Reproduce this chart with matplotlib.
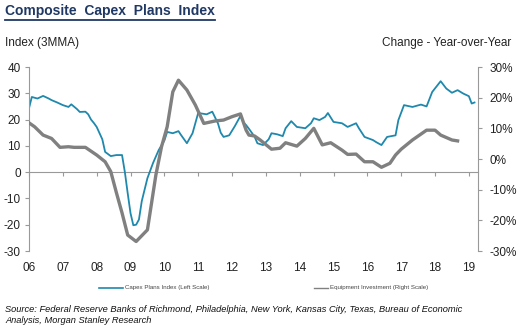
import matplotlib
matplotlib.use('Agg')
import matplotlib.pyplot as plt
from matplotlib.lines import Line2D

plt.rcParams['font.family'] = ['Liberation Sans', 'DejaVu Sans']

# ---------------- data ----------------
capex_dates = [
    '2006-01', '2006-02', '2006-04', '2006-06', '2006-07', '2006-08', '2006-09', '2006-11', '2006-12',
    '2007-01', '2007-03', '2007-04', '2007-06', '2007-07', '2007-09', '2007-10', '2007-11', '2007-12',
    '2008-01', '2008-03', '2008-04', '2008-06', '2008-08', '2008-10', '2008-11', '2008-12',
    '2009-01', '2009-02', '2009-03', '2009-04', '2009-05', '2009-07', '2009-09', '2009-11',
    '2010-01', '2010-02', '2010-04', '2010-06', '2010-07', '2010-09', '2010-11',
    '2011-01', '2011-04', '2011-06', '2011-08', '2011-09', '2011-10', '2011-12',
    '2012-02', '2012-04', '2012-05', '2012-06', '2012-07', '2012-09', '2012-10', '2012-12',
    '2013-02', '2013-03', '2013-05', '2013-07', '2013-08', '2013-10', '2013-12',
    '2014-03', '2014-05', '2014-06', '2014-08', '2014-10', '2014-11',
    '2015-01', '2015-04', '2015-06', '2015-09', '2015-10', '2015-12',
    '2016-03', '2016-04', '2016-06', '2016-08', '2016-11', '2016-12',
    '2017-02', '2017-05', '2017-08', '2017-10', '2017-12',
    '2018-03', '2018-05', '2018-07', '2018-09', '2018-11',
    '2019-01', '2019-02', '2019-03',
]
capex_values = [
    24.3, 28.6, 28.0, 29.0, 28.5, 28.0, 27.4, 26.5, 26.0,
    25.5, 24.8, 25.8, 24.0, 22.9, 23.0, 22.0, 20.0, 18.7,
    17.2, 12.5, 7.7, 6.1, 6.5, 6.5, 0.0, -8.0,
    -15.6, -20.2, -20.0, -18.0, -11.0, -2.3, 3.5, 8.4,
    12.0, 15.3, 14.8, 15.6, 14.0, 11.0, 14.8,
    22.5, 22.0, 23.0, 18.6, 15.0, 13.4, 14.0,
    17.5, 21.4, 19.0, 17.9, 16.5, 13.5, 11.0, 10.3,
    12.5, 14.8, 14.4, 13.7, 16.7, 19.4, 17.2,
    16.7, 18.6, 20.5, 19.8, 21.0, 22.5,
    19.1, 18.6, 17.2, 18.6, 16.7, 13.4,
    12.2, 11.5, 10.3, 13.4, 14.0, 19.8,
    25.5, 24.8, 25.7, 25.0, 30.5,
    34.6, 31.8, 30.2, 31.2, 29.9,
    28.9, 26.1, 26.5,
]

equip_dates = [
    '2006-01', '2006-03', '2006-06', '2006-09', '2006-12',
    '2007-03', '2007-05', '2007-09', '2008-01', '2008-04', '2008-06', '2008-08', '2008-10', '2008-12',
    '2009-03', '2009-07', '2009-10', '2009-12',
    '2010-02', '2010-04', '2010-06', '2010-09', '2010-12',
    '2011-03', '2011-07', '2011-10',
    '2012-01', '2012-04', '2012-06', '2012-07', '2012-09', '2012-11',
    '2013-03', '2013-06', '2013-08', '2013-12',
    '2014-03', '2014-06', '2014-09', '2014-12',
    '2015-04', '2015-06', '2015-09', '2015-12',
    '2016-03', '2016-06', '2016-09', '2016-11',
    '2017-01', '2017-05', '2017-10',
    '2018-01', '2018-03', '2018-07', '2018-09',
]
equip_values = [
    11.8, 10.5, 7.8, 6.7, 3.8,
    4.0, 3.8, 3.8, 1.3, -0.9, -4.1, -11.0, -17.6, -24.8,
    -26.9, -23.1, -5.2, 4.0,
    10.5, 21.9, 25.7, 22.5, 17.6,
    11.6, 12.4, 12.7,
    13.8, 14.7, 9.4, 7.8, 7.5, 6.2,
    3.2, 3.5, 5.3, 4.2,
    6.7, 10.0, 4.6, 5.3,
    2.9, 1.5, 1.6, -0.9,
    -0.9, -2.7, -1.4, 1.3,
    3.2, 6.2, 9.4,
    9.4, 7.8, 6.2, 5.9,
]

year_ticks = list(range(2006, 2020))
year_labels = ['06', '07', '08', '09', '10', '11', '12', '13', '14', '15', '16', '17', '18', '19']
left_ticks = [-30, -20, -10, 0, 10, 20, 30, 40]
right_ticks = [-30, -20, -10, 0, 10, 20, 30]

title = 'Composite  Capex  Plans  Index'
left_label = 'Index (3MMA)'
right_label = 'Change - Year-over-Year'
legend_labels = ['Capex Plans Index (Left Scale)', 'Equipment Investment (Right Scale)']
source_lines = ['Source: Federal Reserve Banks of Richmond, Philadelphia, New York, Kansas City, Texas, Bureau of Economic',
                'Analysis, Morgan Stanley Research']


def to_year(s):
    y, m = s.split('-')
    return int(y) + (int(m) - 1) / 12.0


capex_x = [to_year(d) for d in capex_dates]
equip_x = [to_year(d) for d in equip_dates]

BLUE = '#1f88ad'
GREY = '#808080'
AXC = '#999999'
W, H = 522, 327

fig = plt.figure(figsize=(W / 100, H / 100), dpi=100)
ax = fig.add_axes([29 / W, 1 - 251 / H, (478 - 29) / W, (251 - 67) / H])
ax.set_xlim(2006, 2019.27)
ax.set_ylim(-30, 40)
ax2 = ax.twinx()
ax2.set_ylim(-30, 30)

ax.plot(capex_x, capex_values, color=BLUE, lw=1.3, solid_joinstyle='round')
ax2.plot(equip_x, equip_values, color=GREY, lw=2.4, solid_joinstyle='round')

for s in ['top', 'bottom', 'right']:
    ax.spines[s].set_visible(False)
ax.spines['left'].set_color(AXC)
for s in ['top', 'bottom', 'left']:
    ax2.spines[s].set_visible(False)
ax2.spines['right'].set_color(AXC)

ax.set_yticks(left_ticks, labels=[str(v) for v in left_ticks])
ax.tick_params(axis='y', direction='out', length=3, color=AXC, pad=3, labelsize=8.5, labelcolor='#222222')
ax2.set_yticks(right_ticks, labels=[f'{v}%' for v in right_ticks])
ax2.tick_params(axis='y', direction='out', length=3, color=AXC, pad=5, labelsize=8.5, labelcolor='#222222')

ax.set_xticks(year_ticks, labels=year_labels)
ax.tick_params(axis='x', length=0, pad=8, labelsize=8.5, labelcolor='#222222')

# zero line with year tick marks
sec = ax.secondary_xaxis(30 / 70)
sec.set_xticks(year_ticks)
sec.tick_params(axis='x', direction='out', length=3, color=AXC, labelbottom=False, labeltop=False)
for s in sec.spines.values():
    s.set_color(AXC)

# texts
t = fig.text(5 / W, 1 - 15 / H, title, fontsize=10, fontweight='bold', color='#1f3864', va='baseline')
fig.text(5 / W, 1 - 46 / H, left_label, fontsize=8.5, color='#222222', va='baseline')
fig.text(511 / W, 1 - 46 / H, right_label, fontsize=8.5, color='#222222', va='baseline', ha='right')

# legend
fig.add_artist(Line2D([99 / W, 123 / W], [1 - 288 / H] * 2, color=BLUE, lw=1.2))
fig.text(125 / W, 1 - 288 / H, legend_labels[0], fontsize=4.4, color='#444444', va='center')
fig.add_artist(Line2D([314 / W, 328 / W], [1 - 288 / H] * 2, color=GREY, lw=1.0))
fig.text(330 / W, 1 - 288 / H, legend_labels[1], fontsize=4.4, color='#444444', va='center')

fig.text(5 / W, 1 - 312 / H, source_lines[0], fontsize=6.65, style='italic', color='#111111', va='baseline')
fig.text(5 / W, 1 - 323 / H, source_lines[1], fontsize=6.65, style='italic', color='#111111', va='baseline')

fig.canvas.draw()
bb = t.get_window_extent()
fig.add_artist(Line2D([bb.x0 / W, bb.x1 / W], [(bb.y0 - 1.5) / H] * 2, color='#1f3864', lw=1.3))

fig.savefig('out.png', dpi=100)
